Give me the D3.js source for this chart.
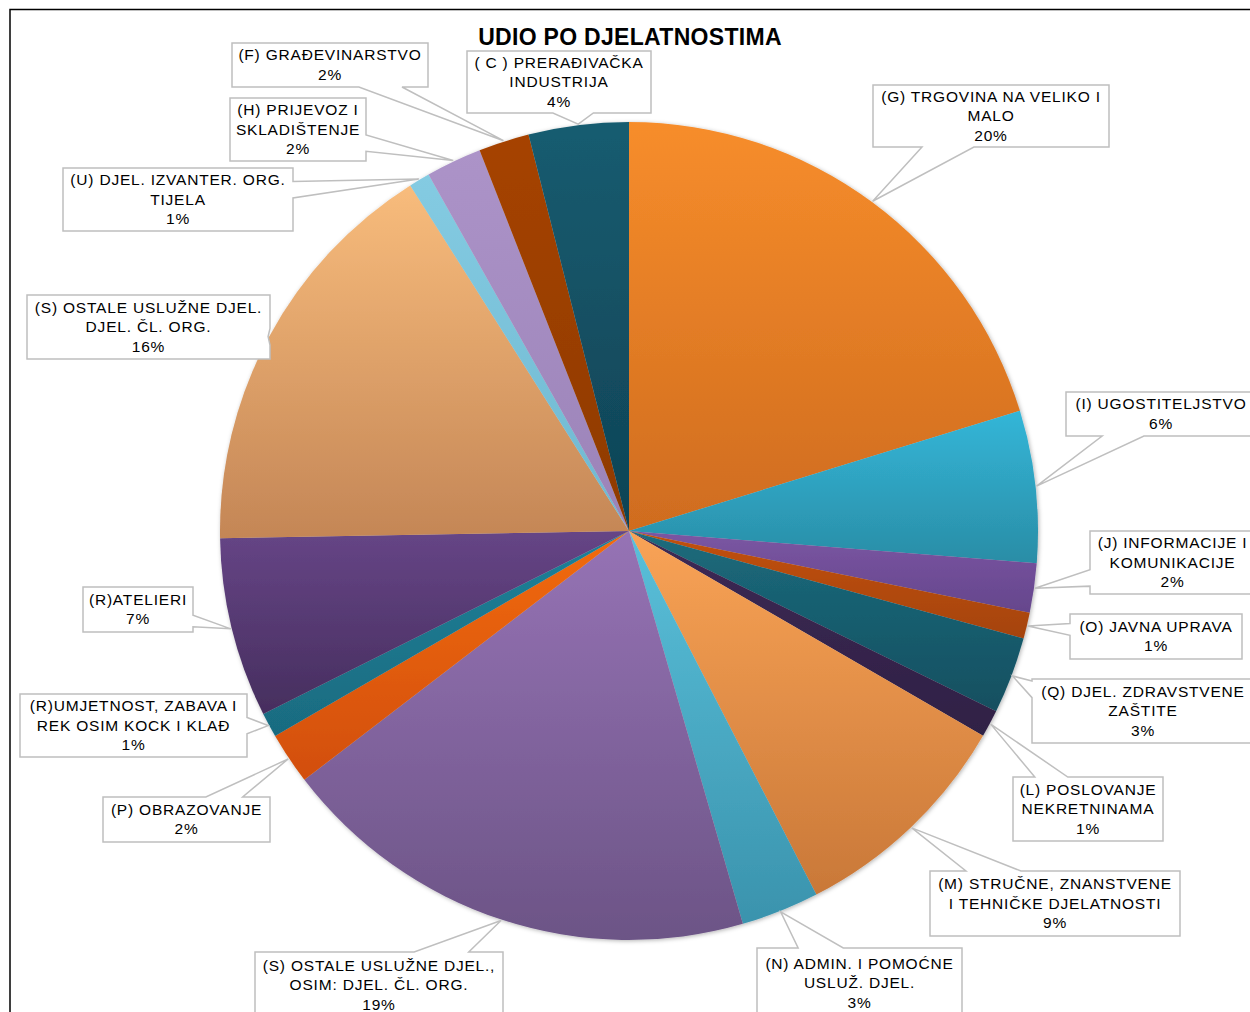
<!DOCTYPE html>
<html>
<head>
<meta charset="utf-8">
<script src="https://cdn.jsdelivr.net/npm/d3@7"></script>
<style>
  body { margin: 0; background: #fff; }
  svg { display: block; }
  text { font-family: "Liberation Sans", Arial, sans-serif; }
</style>
</head>
<body>
<svg id="chart" width="1250" height="1012"></svg>
<script>
// data (clockwise from 12 o'clock), label lines split with "|"
var categories = [
    "(G) TRGOVINA NA VELIKO I|MALO",
    "(I) UGOSTITELJSTVO",
    "(J) INFORMACIJE I|KOMUNIKACIJE",
    "(O) JAVNA UPRAVA",
    "(Q) DJEL. ZDRAVSTVENE|ZAŠTITE",
    "(L) POSLOVANJE|NEKRETNINAMA",
    "(M) STRUČNE, ZNANSTVENE|I TEHNIČKE DJELATNOSTI",
    "(N) ADMIN. I POMOĆNE|USLUŽ. DJEL.",
    "(S) OSTALE USLUŽNE DJEL.,|OSIM: DJEL. ČL. ORG.",
    "(P) OBRAZOVANJE",
    "(R)UMJETNOST, ZABAVA I|REK OSIM KOCK I KLAĐ",
    "(R)ATELIERI",
    "(S) OSTALE USLUŽNE DJEL.|DJEL. ČL. ORG.",
    "(U) DJEL. IZVANTER. ORG.|TIJELA",
    "(H) PRIJEVOZ I|SKLADIŠTENJE",
    "(F) GRAĐEVINARSTVO",
    "( C ) PRERAĐIVAČKA|INDUSTRIJA"
];
var shares = [20.25, 6.0, 1.95, 1.03, 3.03, 1.08, 9.08, 3.08, 19.08, 2.05, 0.97, 7.1, 16.3, 0.83, 2.2, 2.0, 3.95];
var title = "UDIO PO DJELATNOSTIMA";

// styles: gradient top / bottom per slice
var colTop = ["#F78D2B","#33B6D8","#7B56A3","#C2510C","#1C6B7C","#3D2A55","#F9A356","#5AC0DA",
              "#9673B5","#F26B0F","#1E8199","#664586","#F8BC7C","#84CBE2","#AC93C8","#A64300","#175C70"];
var colBot = ["#CF6C1F","#2A8DA6","#65468C","#A54310","#134F60","#2F2045","#C97838","#3A93AD",
              "#6C5486","#D24E07","#196B80","#462E5E","#C48656","#6FB8D0","#9B83B8","#8E3A02","#0F4355"];

// label box layout [x, y, w, h]
var boxes = [
    [873, 85, 236, 62], [1066, 392, 190, 44], [1090, 531, 165, 63], [1070, 614, 172, 45],
    [1032, 679, 222, 64], [1013, 777, 150, 64], [930, 871, 250, 65], [757, 948, 205, 70],
    [255, 952, 248, 66], [103, 797, 167, 45], [20, 694, 227, 63], [83, 587, 110, 45],
    [27, 295, 243, 64], [63, 168, 230, 63], [230, 98, 136, 63], [232, 43, 196, 44],
    [467, 51, 184, 62]
];

var cx = 629, cy = 531, radius = 409;
var lineH = 19.5;

var svg = d3.select("#chart");
var defs = svg.append("defs");

// frame
svg.append("path")
    .attr("d", "M10,1013 L10,9.5 L1251,9.5")
    .attr("style", "fill:none; stroke:#000; stroke-width:1.5");

var shadow = defs.append("filter").attr("id", "shadow")
    .attr("x", "-10%").attr("y", "-10%").attr("width", "120%").attr("height", "120%");
shadow.append("feDropShadow")
    .attr("dx", 1).attr("dy", 1).attr("stdDeviation", 2)
    .attr("flood-color", "#000").attr("flood-opacity", 0.3);

shares.forEach(function(d, i) {
    var g = defs.append("linearGradient").attr("id", "grad" + i)
        .attr("x1", 0).attr("y1", 0).attr("x2", 0).attr("y2", 1);
    g.append("stop").attr("offset", "0%").attr("stop-color", colTop[i]);
    g.append("stop").attr("offset", "100%").attr("stop-color", colBot[i]);
});

var pie = d3.pie().sort(null).value(function(d) { return d; });
var arcs = pie(shares);
var arc = d3.arc().innerRadius(0).outerRadius(radius);

var chart = svg.append("g")
    .attr("transform", "translate(" + cx + "," + cy + ")");

var slices = chart.append("g").attr("filter", "url(#shadow)");
slices.selectAll("path")
    .data(arcs)
    .enter().append("path")
        .attr("d", arc)
        .attr("fill", function(d, i) { return "url(#grad" + i + ")"; });

// callout boxes with wedge pointers
var labels = svg.append("g");
arcs.forEach(function(a, i) {
    var b = boxes[i];
    var x = b[0], y = b[1], w = b[2], h = b[3];
    var mid = (a.startAngle + a.endAngle) / 2;
    var tip = [cx + Math.sin(mid) * (radius + 1), cy - Math.cos(mid) * (radius + 1)];
    var bc = [x + w / 2, y + h / 2];
    var dx = tip[0] - bc[0], dy = tip[1] - bc[1];

    // which edge does the centre->tip line leave through
    var tx = dx !== 0 ? (w / 2) / Math.abs(dx) : Infinity;
    var ty = dy !== 0 ? (h / 2) / Math.abs(dy) : Infinity;
    var pts;
    if (ty < tx) {
        var ex = bc[0] + dx * ty;
        var s = w * 0.11;
        ex = Math.max(x + s + 2, Math.min(x + w - s - 2, ex));
        if (dy > 0) {
            // bottom edge (right to left)
            pts = [[x, y], [x + w, y], [x + w, y + h], [ex + s, y + h], tip, [ex - s, y + h], [x, y + h]];
        } else {
            pts = [[x, y], [ex - s, y], tip, [ex + s, y], [x + w, y], [x + w, y + h], [x, y + h]];
        }
    } else {
        var ey = bc[1] + dy * tx;
        var s2 = h * 0.13;
        ey = Math.max(y + s2 + 2, Math.min(y + h - s2 - 2, ey));
        if (dx > 0) {
            pts = [[x, y], [x + w, y], [x + w, ey - s2], tip, [x + w, ey + s2], [x + w, y + h], [x, y + h]];
        } else {
            pts = [[x, y], [x + w, y], [x + w, y + h], [x, y + h], [x, ey + s2], tip, [x, ey - s2]];
        }
    }
    labels.append("path")
        .attr("d", "M" + pts.map(function(p) { return p.join(","); }).join("L") + "Z")
        .attr("style", "fill:#fff; stroke:#BFBFBF; stroke-width:1.5; stroke-linejoin:miter");

    var lines = categories[i].split("|").concat([Math.round(shares[i]) + "%"]);
    var top = y + h / 2 - (lines.length * lineH) / 2;
    var t = labels.append("text")
        .attr("text-anchor", "middle")
        .attr("style", "font-size:15.5px; fill:#000; letter-spacing:0.8px");
    lines.forEach(function(l, k) {
        t.append("tspan")
            .attr("x", x + w / 2)
            .attr("y", top + lineH * k + lineH / 2 + 5)
            .text(l);
    });
});

svg.append("text")
    .attr("x", 630).attr("y", 45)
    .attr("text-anchor", "middle")
    .attr("style", "font-size:23px; font-weight:bold; fill:#000; letter-spacing:0.3px")
    .text(title);
</script>
</body>
</html>
